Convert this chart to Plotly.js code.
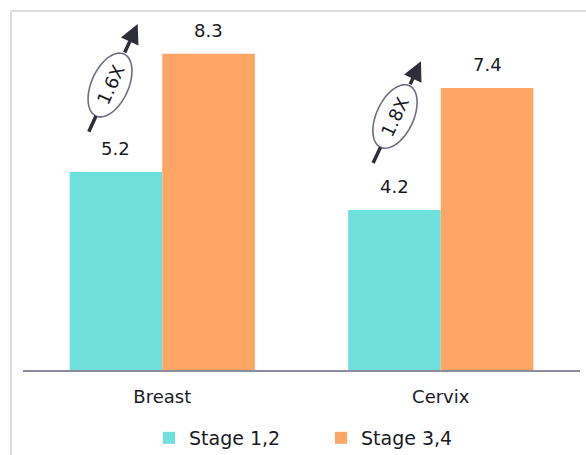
<!DOCTYPE html>
<html>
<head>
<meta charset="utf-8">
<script src="https://cdn.plot.ly/plotly-3.0.1.min.js"></script>
<style>
html,body{margin:0;padding:0;background:#fff;}
#chart{width:586px;height:455px;}
</style>
</head>
<body>
<div id="chart"></div>
<script>
// ---- data ----
const categories = ["Breast", "Cervix"];
const seriesNames = ["Stage 1,2", "Stage 3,4"];
const stage12 = [5.2, 4.2];
const stage34 = [8.3, 7.4];
const ratioLabels = ["1.6X", "1.8X"];

// ---- style ----
const colors = ["#6fdfdc", "#ffa666"];
const FONT = "DejaVu Sans, sans-serif";
const TEXT = "#1a1a24";
const ARROW = "#2e2e38";
const bargap = 0.335;

const traces = [stage12, stage34].map((vals, i) => ({
  type: "bar",
  name: seriesNames[i],
  x: categories,
  y: vals,
  marker: {color: colors[i]},
  hoverinfo: "skip"
}));

const annotations = [];
const shapes = [];
const half = (1 - bargap) / 4;
[stage12, stage34].forEach((vals, si) => {
  vals.forEach((v, ci) => {
    annotations.push({
      x: ci + (si === 0 ? -half : half), y: v, xref: "x", yref: "y",
      text: String(v), showarrow: false, yanchor: "bottom", yshift: 11,
      font: {family: FONT, size: 18, color: TEXT}
    });
  });
});

// ratio badges: ellipse centre in data units, direction (deg), head/tail distances in px
const badges = [
  {cx: -0.1876, cy: 7.48, angDeg: 65.6, head: 67, tail: 53},
  {cx: 0.8357, cy: 6.654, angDeg: 64.8, head: 61, tail: 53}
];
const A = 34, B = 18.5;
badges.forEach((b, i) => {
  const ang = b.angDeg * Math.PI / 180;
  const c = Math.cos(ang), s = Math.sin(ang);
  // head segment (ellipse top -> head)
  const dh = b.head - A;
  annotations.push({
    x: b.cx, y: b.cy, xref: "x", yref: "y",
    xshift: b.head * c, yshift: b.head * s,
    ax: -dh * c, ay: dh * s,
    text: "", showarrow: true, arrowhead: 2, arrowsize: 1.1, arrowwidth: 3.5,
    arrowcolor: ARROW, standoff: 0, startstandoff: 0
  });
  // tail segment (tail -> ellipse bottom)
  const dt = b.tail - A;
  annotations.push({
    x: b.cx, y: b.cy, xref: "x", yref: "y",
    xshift: -A * c, yshift: -A * s,
    ax: -dt * c, ay: dt * s,
    text: "", showarrow: true, arrowhead: 0, arrowwidth: 3.5,
    arrowcolor: ARROW, standoff: 0, startstandoff: 0
  });
  let p = "";
  for (let k = 0; k <= 72; k++) {
    const t = k / 72 * 2 * Math.PI;
    const px = A * Math.cos(t) * c - B * Math.sin(t) * s;
    const py = A * Math.cos(t) * s + B * Math.sin(t) * c;
    p += (k === 0 ? "M" : "L") + px.toFixed(2) + "," + py.toFixed(2);
  }
  p += "Z";
  shapes.push({
    type: "path", xref: "x", yref: "y", xsizemode: "pixel", ysizemode: "pixel",
    xanchor: b.cx, yanchor: b.cy, path: p,
    fillcolor: "#ffffff", line: {color: "#6e6e82", width: 1.6}, layer: "above"
  });
  annotations.push({
    x: b.cx, y: b.cy, xref: "x", yref: "y", showarrow: false,
    text: ratioLabels[i], textangle: -b.angDeg,
    font: {family: FONT, size: 18, color: TEXT}
  });
});

// frame
shapes.push({type: "line", xref: "paper", yref: "paper", x0: -0.0215, x1: -0.0215, y0: 1.0257, y1: -0.4,
  line: {color: "#dcdce4", width: 2}, layer: "below"});
shapes.push({type: "line", xref: "paper", yref: "paper", x0: -0.0215, x1: 1.1, y0: 1.0257, y1: 1.0257,
  line: {color: "#dcdce4", width: 2}, layer: "below"});

const layout = {
  width: 586, height: 455,
  margin: {l: 23, r: 6, t: 20, b: 85},
  paper_bgcolor: "#ffffff", plot_bgcolor: "#ffffff",
  barmode: "group", bargap: bargap, bargroupgap: 0,
  font: {family: FONT, size: 18, color: TEXT},
  showlegend: true,
  legend: {orientation: "h", x: 0.535, xanchor: "center", xref: "paper",
    y: 0.0374, yanchor: "middle", yref: "container",
    font: {family: FONT, size: 19, color: TEXT}, entrywidth: 127, entrywidthmode: "pixels",
    itemclick: false, itemdoubleclick: false},
  xaxis: {type: "category", range: [-0.5, 1.5], showline: true, linecolor: "#8c8c9c", linewidth: 2,
    ticks: "", showgrid: false, zeroline: false, fixedrange: true, ticklabelstandoff: 9,
    tickfont: {family: FONT, size: 18, color: TEXT}},
  yaxis: {visible: false, range: [0, 350 / 38.1], fixedrange: true},
  annotations: annotations,
  shapes: shapes
};

Plotly.newPlot("chart", traces, layout, {displayModeBar: false, staticPlot: true});
</script>
</body>
</html>
